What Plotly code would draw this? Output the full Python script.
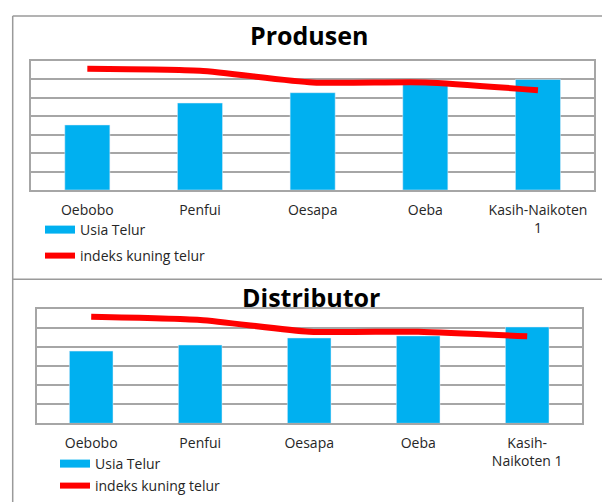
import plotly.graph_objects as go

# ---- data ----
categories = ["Oebobo", "Penfui", "Oesapa", "Oeba", "Kasih-Naikoten 1"]
prod_labels = ["Oebobo", "Penfui", "Oesapa", "Oeba", "Kasih-Naikoten<br>1"]
dist_labels = ["Oebobo", "Penfui", "Oesapa", "Oeba", "Kasih-<br>Naikoten 1"]

prod_usia = [3.53, 4.72, 5.28, 5.72, 6.0]
prod_indeks = [6.58, 6.47, 5.84, 5.84, 5.41]

dist_usia = [3.8, 4.12, 4.49, 4.6, 5.07]
dist_indeks = [5.61, 5.44, 4.82, 4.82, 4.58]

series_names = ["Usia Telur", "indeks kuning telur"]
titles = ["Produsen", "Distributor"]

# ---- styles ----
W, H = 602, 502
BLUE = "#00B0F0"
RED = "#FF0000"
GRID = "#A6A6A6"
FRAME = "#9A9A9A"
TXT = "#262626"
FONT = "Open Sans"

def px(x):
    return x / W

def py(y):
    return 1 - y / H

fig = go.Figure()

# Top panel
fig.add_trace(go.Bar(x=categories, y=prod_usia, marker_color=BLUE, width=0.4,
                     showlegend=False, xaxis="x", yaxis="y"))
fig.add_trace(go.Scatter(x=categories, y=prod_indeks, mode="lines",
                         line=dict(color=RED, width=6, shape="spline", smoothing=0.6),
                         showlegend=False, xaxis="x", yaxis="y"))
# Bottom panel
fig.add_trace(go.Bar(x=categories, y=dist_usia, marker_color=BLUE, width=0.4,
                     showlegend=False, xaxis="x2", yaxis="y2"))
fig.add_trace(go.Scatter(x=categories, y=dist_indeks, mode="lines",
                         line=dict(color=RED, width=6, shape="spline", smoothing=0.6),
                         showlegend=False, xaxis="x2", yaxis="y2"))

# legend entries (one legend per item to place them like the reference)
legend_specs = [
    ("legend", series_names[0], BLUE, 8, 40, 230),
    ("legend2", series_names[1], RED, 6, 40, 256),
    ("legend3", series_names[0], BLUE, 8, 55, 464),
    ("legend4", series_names[1], RED, 6, 55, 486),
]
for lg, name, col, lw, lx, ly in legend_specs:
    fig.add_trace(go.Scatter(x=[None], y=[None], mode="lines", name=name,
                             line=dict(color=col, width=lw), legend=lg,
                             xaxis="x", yaxis="y"))

axis_common_x = dict(
    type="category", showgrid=False, showline=True, linecolor=GRID, linewidth=1.5,
    mirror=True, ticks="outside", ticklen=6, tickcolor="rgba(0,0,0,0)",
    tickfont=dict(family=FONT, size=14, color=TXT), fixedrange=True,
)
axis_common_y = dict(
    showgrid=True, gridcolor=GRID, gridwidth=1.5, showline=True, linecolor=GRID,
    linewidth=1.5, mirror=True, showticklabels=False, ticks="", zeroline=False,
    dtick=1, fixedrange=True,
)

layout = dict(
    width=W, height=H, autosize=False,
    margin=dict(l=0, r=0, t=0, b=0),
    paper_bgcolor="white", plot_bgcolor="white",
    bargap=0.6,
    xaxis=dict(axis_common_x, domain=[px(31), px(594.3)], anchor="y",
               tickvals=categories, ticktext=prod_labels),
    yaxis=dict(axis_common_y, domain=[py(190), py(61)], anchor="x", range=[0, 7]),
    xaxis2=dict(axis_common_x, domain=[px(36.7), px(581.7)], anchor="y2",
                tickvals=categories, ticktext=dist_labels),
    yaxis2=dict(axis_common_y, domain=[py(423.3), py(309.3)], anchor="x2", range=[0, 6]),
    annotations=[
        dict(text="<b>%s</b>" % titles[0], x=px(309), y=py(35), xref="paper", yref="paper",
             xanchor="center", yanchor="middle", showarrow=False,
             font=dict(family=FONT, size=25, color="black")),
        dict(text="<b>%s</b>" % titles[1], x=px(311), y=py(297), xref="paper", yref="paper",
             xanchor="center", yanchor="middle", showarrow=False,
             font=dict(family=FONT, size=25, color="black")),
    ],
    shapes=[
        dict(type="line", xref="paper", yref="paper", x0=px(12.7), x1=1.0, y0=py(16), y1=py(16),
             line=dict(color=FRAME, width=1.5)),
        dict(type="line", xref="paper", yref="paper", x0=px(12.7), x1=px(12.7), y0=py(16), y1=0,
             line=dict(color=FRAME, width=1.5)),
        dict(type="line", xref="paper", yref="paper", x0=px(12.7), x1=1.0, y0=py(279.3), y1=py(279.3),
             line=dict(color=FRAME, width=1.5)),
    ],
)
for lg, name, col, lw, lx, ly in legend_specs:
    layout[lg] = dict(x=px(lx), y=py(ly), xanchor="left", yanchor="middle",
                      bgcolor="rgba(0,0,0,0)", borderwidth=0,
                      font=dict(family=FONT, size=14, color=TXT),
                      itemwidth=30, tracegroupgap=0)

fig.update_layout(**layout)
fig.write_html("out.html")
